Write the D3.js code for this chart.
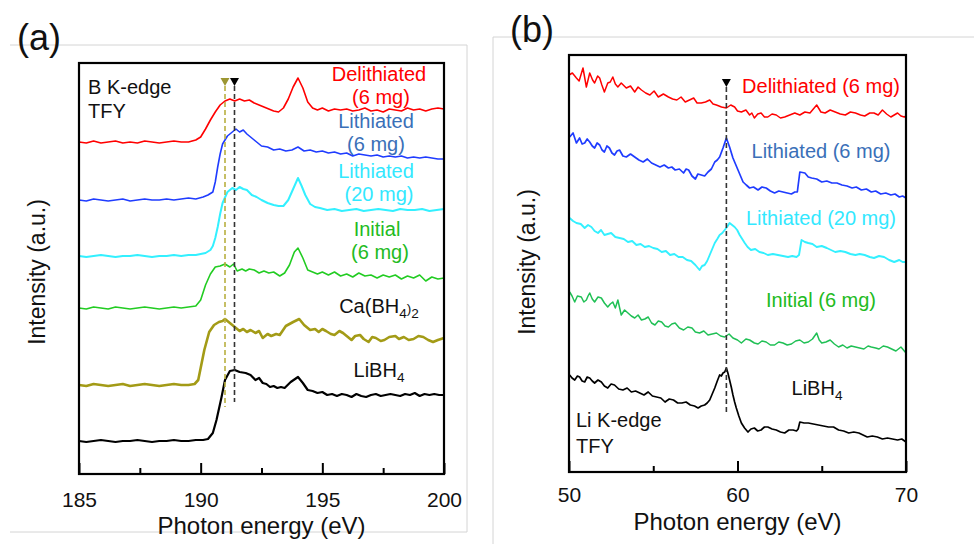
<!DOCTYPE html>
<html><head><meta charset="utf-8">
<script src="https://cdn.jsdelivr.net/npm/d3@7"></script>
<style>body{margin:0;background:#fff}svg{display:block}text{font-family:"Liberation Sans",Arial,Helvetica,sans-serif}</style>
</head><body><svg id="c" width="974" height="544"></svg>
<script>
// ---------- DATA (a): B K-edge TFY, [photon energy eV, intensity a.u.] ----------
const aXTicks = [185, 190, 195, 200];
const aXMinor = [187.5, 192.5, 197.5];
const aDelithiated = [[185.0,33.2],[185.3,33.1],[185.6,33.3],[185.9,33.1],[186.2,33.2],[186.5,33.3],[186.8,33.1],[187.1,33.2],[187.4,33.1],[187.7,33.3],[188.0,33.2],[188.3,33.1],[188.6,33.2],[188.9,33.3],[189.2,33.2],[189.5,33.2],[189.8,33.4],[190.0,33.7],[190.2,34.5],[190.4,35.4],[190.6,36.2],[190.8,36.9],[191.0,37.3],[191.2,37.5],[191.4,37.3],[191.6,37.5],[191.8,37.3],[192.0,37.4],[192.2,37.1],[192.4,36.9],[192.6,36.7],[192.8,36.5],[193.0,36.3],[193.2,36.2],[193.4,36.6],[193.6,37.5],[193.8,38.7],[194.0,39.6],[194.2,38.6],[194.4,37.2],[194.6,36.6],[194.8,36.4],[195.0,36.6],[195.25,36.3],[195.5,36.5],[195.75,36.4],[196.0,36.5],[196.25,36.3],[196.5,36.4],[196.75,36.6],[197.0,36.3],[197.25,36.4],[197.5,36.2],[197.75,36.5],[198.0,36.4],[198.25,36.3],[198.5,36.6],[198.75,36.4],[199.0,36.5],[199.25,36.3],[199.5,36.5],[199.75,36.6],[200.0,36.5]];
const aLithiated6 = [[185.0,27.4],[185.3,27.3],[185.6,27.5],[185.9,27.4],[186.2,27.3],[186.5,27.4],[186.8,27.5],[187.1,27.3],[187.4,27.4],[187.7,27.5],[188.0,27.4],[188.3,27.4],[188.6,27.5],[188.9,27.4],[189.2,27.5],[189.5,27.6],[189.8,27.5],[190.1,27.7],[190.3,27.9],[190.5,28.2],[190.6,29.2],[190.7,30.7],[190.8,32.0],[190.9,33.0],[191.1,33.8],[191.3,34.2],[191.45,34.5],[191.6,34.2],[191.75,34.4],[191.9,34.0],[192.0,33.8],[192.2,33.4],[192.35,33.1],[192.5,32.8],[192.75,32.7],[193.0,32.4],[193.25,32.5],[193.5,32.3],[193.75,32.4],[194.0,32.7],[194.25,32.3],[194.5,32.4],[194.75,32.2],[195.0,32.3],[195.25,32.1],[195.5,32.2],[195.75,32.0],[196.0,32.1],[196.25,31.8],[196.5,32.0],[196.75,31.9],[197.0,31.8],[197.25,31.9],[197.5,31.7],[197.75,31.8],[198.0,31.7],[198.25,31.8],[198.5,31.6],[198.75,31.7],[199.0,31.6],[199.25,31.7],[199.5,31.6],[199.75,31.5],[200.0,31.5]];
const aLithiated20 = [[185.0,21.8],[185.3,21.7],[185.6,21.8],[185.9,21.9],[186.2,21.8],[186.5,21.7],[186.8,21.8],[187.1,21.8],[187.4,21.9],[187.7,21.8],[188.0,21.7],[188.3,21.8],[188.6,21.8],[188.9,21.9],[189.2,21.8],[189.5,21.9],[189.8,21.9],[190.0,22.0],[190.2,22.1],[190.4,22.4],[190.5,22.8],[190.6,23.6],[190.7,24.7],[190.8,26.0],[190.9,27.1],[191.1,28.2],[191.3,28.6],[191.45,28.4],[191.6,28.7],[191.75,28.5],[191.9,28.4],[192.1,27.9],[192.3,27.7],[192.5,27.4],[192.75,27.1],[193.0,26.9],[193.2,26.8],[193.4,26.8],[193.6,27.4],[193.8,28.5],[194.0,29.6],[194.15,28.8],[194.3,27.9],[194.5,27.0],[194.7,26.7],[194.9,26.6],[195.2,26.4],[195.5,26.5],[195.8,26.3],[196.1,26.4],[196.4,26.5],[196.7,26.3],[197.0,26.4],[197.3,26.5],[197.6,26.4],[197.9,26.3],[198.2,26.5],[198.5,26.4],[198.8,26.4],[199.1,26.5],[199.4,26.3],[199.7,26.4],[200.0,26.5]];
const aInitial = [[185.0,16.6],[185.3,16.5],[185.6,16.7],[185.9,16.6],[186.2,16.5],[186.5,16.7],[186.8,16.6],[187.1,16.5],[187.4,16.6],[187.7,16.7],[188.0,16.6],[188.3,16.5],[188.6,16.6],[188.9,16.7],[189.2,16.6],[189.5,16.7],[189.8,16.8],[190.0,17.4],[190.2,18.9],[190.4,20.0],[190.6,20.7],[190.8,20.8],[191.0,21.0],[191.2,20.7],[191.35,21.0],[191.5,20.3],[191.7,20.5],[191.85,20.3],[192.0,20.5],[192.2,20.4],[192.4,20.1],[192.6,20.3],[192.8,20.1],[193.0,20.2],[193.25,19.8],[193.45,20.1],[193.65,20.9],[193.85,22.2],[194.0,22.6],[194.2,21.6],[194.4,20.4],[194.6,20.2],[194.8,20.0],[195.0,20.2],[195.25,19.9],[195.5,20.2],[195.75,19.8],[196.0,20.0],[196.25,19.7],[196.5,20.1],[196.75,19.8],[197.0,19.9],[197.25,19.6],[197.5,19.9],[197.75,19.7],[198.0,19.9],[198.25,19.5],[198.5,19.8],[198.75,19.6],[199.0,19.9],[199.25,19.3],[199.5,19.7],[199.75,19.5],[200.0,19.6]];
const aCaBH4 = [[185.0,8.9],[185.3,8.8],[185.6,9.0],[185.9,8.9],[186.2,8.8],[186.5,8.9],[186.8,9.0],[187.1,8.8],[187.4,8.9],[187.7,9.0],[188.0,8.9],[188.3,8.8],[188.6,8.9],[188.9,9.0],[189.2,8.9],[189.5,8.9],[189.75,9.0],[189.9,9.4],[190.0,10.6],[190.15,12.4],[190.35,14.2],[190.55,14.9],[190.75,15.2],[190.9,15.3],[191.0,15.5],[191.2,15.1],[191.4,14.7],[191.6,14.3],[191.75,14.5],[191.9,14.2],[192.05,14.4],[192.25,14.1],[192.4,14.3],[192.55,13.6],[192.75,14.0],[192.9,13.8],[193.1,14.0],[193.25,13.9],[193.5,14.8],[193.8,15.2],[194.05,15.5],[194.25,14.9],[194.5,14.4],[194.7,14.5],[194.85,14.2],[195.0,14.5],[195.15,14.3],[195.35,14.0],[195.5,13.9],[195.7,14.3],[195.85,14.1],[196.0,13.8],[196.2,13.4],[196.35,13.8],[196.55,13.9],[196.7,13.5],[196.9,13.2],[197.05,13.7],[197.2,13.6],[197.4,13.3],[197.55,13.4],[197.75,13.7],[198.0,13.8],[198.15,13.5],[198.35,13.7],[198.55,13.4],[198.75,13.5],[198.95,13.8],[199.15,13.7],[199.35,13.4],[199.55,13.2],[199.75,13.4],[200.0,13.6]];
const aLiBH4 = [[185.0,3.3],[185.3,3.2],[185.6,3.3],[185.9,3.4],[186.2,3.3],[186.5,3.2],[186.8,3.3],[187.1,3.3],[187.4,3.4],[187.7,3.3],[188.0,3.2],[188.3,3.3],[188.6,3.3],[188.9,3.4],[189.2,3.3],[189.5,3.3],[189.8,3.4],[190.1,3.4],[190.3,3.5],[190.5,4.1],[190.65,5.4],[190.85,7.6],[191.0,9.4],[191.2,10.3],[191.4,10.4],[191.6,10.2],[191.85,10.1],[192.05,9.9],[192.25,9.4],[192.4,9.6],[192.55,9.1],[192.7,9.0],[192.85,8.7],[193.0,8.8],[193.15,8.6],[193.3,8.7],[193.45,8.6],[193.7,9.2],[194.0,9.7],[194.2,9.1],[194.4,8.4],[194.6,8.3],[194.8,8.1],[195.0,8.2],[195.2,7.9],[195.4,8.0],[195.6,7.8],[195.8,8.0],[196.0,7.9],[196.2,7.7],[196.4,8.0],[196.6,7.8],[196.8,7.7],[197.0,7.9],[197.2,8.0],[197.4,7.8],[197.6,7.9],[197.8,8.0],[198.0,7.9],[198.2,7.8],[198.4,8.0],[198.6,7.9],[198.8,8.1],[199.0,7.8],[199.2,8.0],[199.4,7.9],[199.6,8.0],[199.8,7.9],[200.0,7.9]];
// edge markers (a): energy, dashed-line top and bottom intensity
const aEdgeEnergy = [191.0, 191.39];
const aEdgeTop = [38.8, 38.8];
const aEdgeBottom = [6.7, 7.2];

// ---------- DATA (b): Li K-edge TFY ----------
const bXTicks = [50, 60, 70];
const bXMinor = [55, 65];
const bDelithiated = [[50.0,39.7],[50.2,39.9],[50.44,39.4],[50.6,39.1],[50.83,40.4],[51.03,38.5],[51.23,39.9],[51.4,39.2],[51.52,38.9],[51.7,39.6],[51.82,39.4],[51.95,38.7],[52.1,38.0],[52.3,38.9],[52.45,39.0],[52.6,39.5],[52.75,38.8],[52.9,38.5],[53.1,38.9],[53.4,38.4],[53.65,38.6],[53.9,38.0],[54.1,38.5],[54.3,38.2],[54.55,37.9],[54.8,37.7],[55.05,38.1],[55.3,37.5],[55.6,37.8],[55.9,37.5],[56.15,37.3],[56.4,37.2],[56.65,37.5],[56.9,37.0],[57.15,37.2],[57.4,37.4],[57.6,36.9],[57.85,36.9],[58.1,37.0],[58.35,37.2],[58.55,36.8],[58.75,36.7],[59.05,36.5],[59.34,36.4],[59.6,36.7],[59.83,36.5],[60.0,36.1],[60.23,36.0],[60.5,36.2],[60.72,35.7],[60.85,35.9],[61.0,35.4],[61.2,35.8],[61.4,35.9],[61.6,35.5],[61.8,35.5],[62.05,35.8],[62.3,35.7],[62.55,35.4],[62.8,35.5],[63.1,35.7],[63.4,35.9],[63.7,35.7],[64.0,36.0],[64.3,35.9],[64.5,36.3],[64.7,36.7],[64.95,36.0],[65.2,35.9],[65.5,36.2],[65.8,36.0],[66.1,35.8],[66.4,35.7],[66.7,36.0],[67.0,35.9],[67.3,35.7],[67.55,35.6],[67.85,35.9],[68.1,35.9],[68.35,35.7],[68.6,36.2],[68.85,35.8],[69.1,35.5],[69.3,35.7],[69.5,35.9],[69.7,35.6],[69.9,35.5],[70.0,35.6]];
const bLithiated6 = [[50.04,33.5],[50.24,33.9],[50.44,32.9],[50.63,33.4],[50.78,32.8],[50.93,32.9],[51.08,33.3],[51.23,33.0],[51.38,32.6],[51.52,32.4],[51.67,32.9],[51.82,32.7],[51.96,32.2],[52.1,32.0],[52.25,32.6],[52.4,32.4],[52.55,31.9],[52.7,31.7],[52.85,32.1],[53.0,32.2],[53.2,31.6],[53.4,31.5],[53.65,31.8],[53.9,31.5],[54.15,31.2],[54.4,31.0],[54.65,31.3],[54.9,30.9],[55.15,30.7],[55.4,30.5],[55.65,30.7],[55.9,30.4],[56.1,30.5],[56.3,30.2],[56.55,30.3],[56.8,29.9],[56.95,30.3],[57.1,30.2],[57.3,29.6],[57.5,29.3],[57.65,29.8],[57.85,29.7],[58.05,29.6],[58.25,30.0],[58.45,30.3],[58.65,31.0],[58.8,31.2],[58.94,31.5],[59.14,32.4],[59.34,33.4],[59.53,32.5],[59.73,31.4],[60.03,30.2],[60.33,29.0],[60.52,28.7],[60.72,28.4],[60.95,28.5],[61.22,28.2],[61.45,28.5],[61.7,28.4],[61.95,28.1],[62.2,27.9],[62.45,28.1],[62.7,28.0],[62.95,27.9],[63.2,27.8],[63.4,28.0],[63.55,28.0],[63.7,30.0],[64.0,29.9],[64.2,29.5],[64.4,29.4],[64.7,29.3],[65.0,29.0],[65.3,29.1],[65.6,28.9],[65.9,28.9],[66.2,28.7],[66.5,28.6],[66.8,28.4],[67.05,28.5],[67.35,28.2],[67.65,28.3],[67.94,28.0],[68.2,28.1],[68.5,27.8],[68.8,27.9],[69.1,27.7],[69.35,27.8],[69.6,27.5],[69.8,27.6],[70.0,27.4]];
const bLithiated20 = [[50.04,25.4],[50.24,25.1],[50.44,24.9],[50.7,24.8],[50.93,24.4],[51.13,24.7],[51.33,24.5],[51.52,24.1],[51.72,23.9],[51.9,24.2],[52.1,23.7],[52.3,23.8],[52.5,23.9],[52.75,23.5],[53.0,23.4],[53.25,23.3],[53.5,23.0],[53.75,23.1],[54.0,22.7],[54.25,22.8],[54.5,22.5],[54.75,22.6],[55.0,22.4],[55.25,22.3],[55.5,22.0],[55.75,22.1],[56.0,21.7],[56.25,21.8],[56.5,21.5],[56.75,21.5],[57.0,21.2],[57.25,21.1],[57.5,20.7],[57.65,20.4],[57.75,20.2],[57.9,20.6],[58.05,20.7],[58.2,21.1],[58.35,21.7],[58.5,22.3],[58.65,22.9],[58.8,23.3],[58.94,23.7],[59.1,23.9],[59.24,24.2],[59.38,24.5],[59.53,24.9],[59.68,24.7],[59.83,24.5],[59.98,24.2],[60.13,23.7],[60.28,23.3],[60.43,22.9],[60.6,22.5],[60.8,22.2],[61.05,22.3],[61.3,22.0],[61.55,21.9],[61.8,21.7],[62.1,21.8],[62.4,21.7],[62.7,21.6],[63.0,21.5],[63.25,21.6],[63.5,21.5],[63.65,21.7],[63.8,23.2],[64.0,23.0],[64.2,22.9],[64.45,22.8],[64.7,22.5],[65.0,22.6],[65.3,22.4],[65.55,22.2],[65.8,22.0],[66.1,22.1],[66.4,22.0],[66.7,21.8],[67.0,21.7],[67.25,21.8],[67.55,21.7],[67.85,21.5],[68.1,21.4],[68.4,21.6],[68.7,21.5],[69.0,21.2],[69.3,21.0],[69.6,21.2],[69.8,21.0],[70.0,21.0]];
const bInitial = [[50.04,18.0],[50.18,17.6],[50.34,17.0],[50.5,17.6],[50.73,17.5],[50.88,17.0],[51.03,17.2],[51.13,17.6],[51.23,17.9],[51.38,17.3],[51.52,17.0],[51.72,17.5],[51.92,17.4],[52.1,16.9],[52.3,16.5],[52.45,16.8],[52.6,17.0],[52.75,16.4],[52.9,17.2],[53.1,15.7],[53.3,16.2],[53.5,15.9],[53.7,15.6],[53.9,15.4],[54.1,15.7],[54.3,15.2],[54.5,15.3],[54.7,15.5],[54.9,14.9],[55.1,14.7],[55.3,15.1],[55.5,15.0],[55.7,14.6],[55.9,14.5],[56.1,14.8],[56.3,14.9],[56.55,14.4],[56.8,14.2],[57.05,14.5],[57.3,14.4],[57.5,14.0],[57.75,13.9],[58.0,14.1],[58.25,13.7],[58.5,13.8],[58.75,13.9],[59.0,13.6],[59.24,13.5],[59.5,13.8],[59.73,13.4],[60.0,13.2],[60.23,12.9],[60.5,13.3],[60.72,13.2],[61.0,12.9],[61.22,12.8],[61.45,13.1],[61.7,13.0],[61.95,12.7],[62.2,12.7],[62.45,13.0],[62.7,12.9],[62.95,12.7],[63.2,12.8],[63.45,13.1],[63.7,13.2],[63.95,12.9],[64.2,13.0],[64.45,13.3],[64.7,13.9],[64.85,13.2],[65.0,12.9],[65.25,13.0],[65.5,13.2],[65.75,12.8],[66.0,12.5],[66.25,12.7],[66.5,12.4],[66.75,12.6],[67.0,12.5],[67.25,12.4],[67.5,12.3],[67.75,12.6],[67.94,12.5],[68.2,12.4],[68.4,12.3],[68.65,12.6],[68.9,12.5],[69.15,12.3],[69.4,12.1],[69.7,12.5],[69.85,12.2],[70.0,11.9]];
const bLiBH4 = [[50.04,9.7],[50.18,9.4],[50.34,9.2],[50.5,9.6],[50.63,9.5],[50.78,9.1],[50.93,9.0],[51.08,9.5],[51.23,9.4],[51.38,9.1],[51.52,8.9],[51.72,9.2],[51.92,9.0],[52.1,8.6],[52.3,8.4],[52.5,8.8],[52.7,8.7],[52.95,8.3],[53.2,8.2],[53.45,8.4],[53.7,8.0],[53.95,8.1],[54.2,7.9],[54.45,7.7],[54.7,8.0],[54.95,7.6],[55.2,7.5],[55.45,7.4],[55.7,7.0],[55.95,7.3],[56.2,7.2],[56.45,6.9],[56.7,6.9],[56.95,7.0],[57.2,6.7],[57.45,6.6],[57.66,6.4],[57.85,6.6],[58.05,6.7],[58.2,6.9],[58.35,7.2],[58.5,7.8],[58.65,8.4],[58.8,9.1],[58.94,9.7],[59.04,9.6],[59.14,9.9],[59.24,10.0],[59.34,10.4],[59.43,9.9],[59.53,9.2],[59.63,8.5],[59.73,7.7],[59.83,7.0],[59.93,6.4],[60.08,5.6],[60.23,4.9],[60.42,4.4],[60.62,4.0],[60.8,4.3],[61.0,4.4],[61.2,4.1],[61.4,4.2],[61.6,4.5],[61.8,4.5],[62.05,4.3],[62.3,4.2],[62.55,4.0],[62.8,3.9],[63.05,4.2],[63.3,4.2],[63.5,4.1],[63.6,4.3],[63.7,5.0],[63.95,4.9],[64.2,4.9],[64.5,4.8],[64.8,4.7],[65.1,4.6],[65.4,4.5],[65.7,4.5],[66.0,4.2],[66.3,4.1],[66.6,3.9],[66.9,4.0],[67.2,3.9],[67.45,3.7],[67.7,3.5],[68.0,3.6],[68.3,3.5],[68.6,3.3],[68.9,3.4],[69.2,3.3],[69.5,3.2],[69.75,3.3],[70.0,3.0]];
const bEdgeEnergy = [59.34];
const bEdgeTop = [38.5];
const bEdgeBottom = [5.9];

// ---------- LAYOUT ----------
const svg = d3.select("#c");
const font = '"Liberation Sans",Arial,Helvetica,sans-serif';
const xa = d3.scaleLinear().domain([185, 200]).range([79, 444]);
const ya = d3.scaleLinear().domain([0, 41.1]).range([474, 63]);
const xb = d3.scaleLinear().domain([50, 70]).range([569, 906]);
const yb = d3.scaleLinear().domain([0, 41.7]).range([472, 55]);

// light gray panel borders
const grey = "#d4d4d4";
svg.append("polyline").attr("points", "10,45 467,45 467,532 10,532").attr("fill", "none").attr("stroke", grey).attr("stroke-width", 1);
svg.append("polyline").attr("points", "493,544 493,37 974,37").attr("fill", "none").attr("stroke", grey).attr("stroke-width", 1);

function drawSeries(x, y, data, color, width) {
  const line = d3.line().x(d => x(d[0])).y(d => y(d[1])).curve(d3.curveLinear);
  svg.append("path").datum(data).attr("d", line).attr("fill", "none")
    .attr("stroke", color).attr("stroke-width", width).attr("stroke-linejoin", "round");
}

function drawAxis(x, y, majors, minors, pad, title, titleBaseline, ytX, ytY) {
  const [r0, r1] = x.range();
  const [b, t] = y.range();
  const gM = svg.append("g").attr("transform", `translate(0,${b})`)
    .call(d3.axisBottom(x).tickValues(majors).tickSizeInner(-11).tickSizeOuter(0).tickPadding(pad).tickFormat(d3.format("d")));
  gM.select(".domain").remove();
  gM.selectAll("line").attr("stroke", "#000").attr("stroke-width", 2);
  gM.selectAll("text").attr("font-size", 21).attr("font-family", font).attr("fill", "#111");
  const gm = svg.append("g").attr("transform", `translate(0,${b})`)
    .call(d3.axisBottom(x).tickValues(minors).tickSizeInner(-6).tickSizeOuter(0).tickFormat(""));
  gm.select(".domain").remove();
  gm.selectAll("line").attr("stroke", "#000").attr("stroke-width", 2);
  svg.append("rect").attr("x", r0).attr("y", t).attr("width", r1 - r0).attr("height", b - t)
    .attr("fill", "none").attr("stroke", "#000").attr("stroke-width", 2.2);
  svg.append("text").attr("x", (r0 + r1) / 2).attr("y", titleBaseline).attr("text-anchor", "middle")
    .attr("font-size", 24).attr("fill", "#111").text(title);
  svg.append("text").attr("transform", `translate(${ytX},${ytY}) rotate(-90)`).attr("text-anchor", "middle")
    .attr("font-size", 23).attr("fill", "#111").text("Intensity (a.u.)");
}

function drawEdges(x, y, energies, tops, bottoms, colors, dashColors) {
  energies.forEach((e, i) => {
    const px = x(e), pt = y(tops[i]), pb = y(bottoms[i]);
    svg.append("line").attr("x1", px).attr("x2", px).attr("y1", pt).attr("y2", pb)
      .attr("stroke", dashColors[i]).attr("stroke-width", 1.6).attr("stroke-dasharray", "5,3");
    svg.append("path").attr("d", `M${px - 4.5},${pt - 8}L${px + 4.5},${pt - 8}L${px},${pt}Z`).attr("fill", colors[i]);
  });
}

function label(x, yBase, parts, color, size, anchor) {
  const t = svg.append("text").attr("x", x).attr("y", yBase).attr("text-anchor", anchor || "middle")
    .attr("font-size", size).attr("fill", color);
  parts.forEach(p => {
    if (typeof p === "string") t.append("tspan").text(p);
    else t.append("tspan").attr("font-size", size * 0.68).attr("dy", p.dy).text(p.t);
  });
}

// ---- panel (a)
const cRed = "#ff0000", cBlue = "#1f3cff", cCyan = "#33f0ff", cGreenA = "#22cc22", cOlive = "#a39b16", cBlack = "#000000";
drawSeries(xa, ya, aDelithiated, cRed, 1.6);
drawSeries(xa, ya, aLithiated6, cBlue, 1.6);
drawSeries(xa, ya, aLithiated20, cCyan, 2);
drawSeries(xa, ya, aInitial, cGreenA, 1.6);
drawSeries(xa, ya, aCaBH4, cOlive, 2.6);
drawSeries(xa, ya, aLiBH4, cBlack, 2.2);
drawEdges(xa, ya, aEdgeEnergy, aEdgeTop, aEdgeBottom, ["#9c9632", "#000"], ["#b8b040", "#333"]);
drawAxis(xa, ya, aXTicks, aXMinor, 18, "Photon energy (eV)", 534, 45, 272);

const la = 379;
label(88, 94, ["B K-edge"], "#111", 20, "start");
label(88, 118, ["TFY"], "#111", 20, "start");
label(la, 81, ["Delithiated"], "#ff0000", 20);
label(la + 2, 104, ["(6 mg)"], "#ff0000", 20);
label(la - 3, 128, ["Lithiated"], "#3a70b8", 20);
label(la - 3, 151, ["(6 mg)"], "#3a70b8", 20);
label(la - 3, 178, ["Lithiated"], "#33e8ff", 20);
label(la, 201, ["(20 mg)"], "#33e8ff", 20);
label(la - 2, 236, ["Initial"], "#22bb22", 20);
label(la + 1, 259, ["(6 mg)"], "#22bb22", 20);
label(la, 313, ["Ca(BH", {t: "4", dy: 5}, {t: ")", dy: -5}, {t: "2", dy: 5}], "#111", 20);
label(la, 377, ["LiBH", {t: "4", dy: 5}], "#111", 20);

// ---- panel (b)
const cGreenB = "#20c055";
drawSeries(xb, yb, bDelithiated, cRed, 1.5);
drawSeries(xb, yb, bLithiated6, cBlue, 1.7);
drawSeries(xb, yb, bLithiated20, cCyan, 1.9);
drawSeries(xb, yb, bInitial, cGreenB, 1.5);
drawSeries(xb, yb, bLiBH4, cBlack, 1.7);
drawEdges(xb, yb, bEdgeEnergy, bEdgeTop, bEdgeBottom, ["#000"], ["#333"]);
drawAxis(xb, yb, bXTicks, bXMinor, 15, "Photon energy (eV)", 530, 535, 262);

const lb = 821;
label(lb, 93, ["Delithiated (6 mg)"], "#ff0000", 20);
label(lb, 158, ["Lithiated (6 mg)"], "#3a70b8", 20);
label(lb, 225, ["Lithiated (20 mg)"], "#33e8ff", 20);
label(lb, 307, ["Initial (6 mg)"], "#22bb22", 20);
label(lb - 4, 395, ["LiBH", {t: "4", dy: 5}], "#111", 20);
label(576, 427, ["Li K-edge"], "#111", 20, "start");
label(576, 453, ["TFY"], "#111", 20, "start");

// panel letters
svg.append("text").attr("x", 17).attr("y", 50).attr("font-size", 36).attr("fill", "#111").text("(a)");
svg.append("text").attr("x", 510).attr("y", 42).attr("font-size", 36).attr("fill", "#111").text("(b)");
</script>
</body></html>
